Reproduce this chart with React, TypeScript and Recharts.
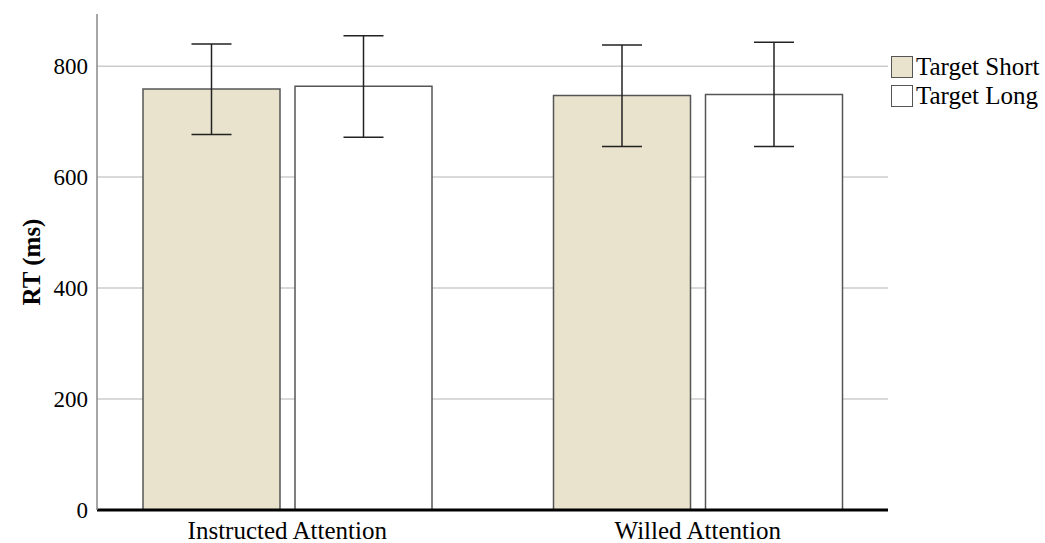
import React from 'react';
import { BarChart, Bar, XAxis, YAxis, CartesianGrid, ErrorBar } from 'recharts';

const categories = ['Instructed Attention', 'Willed Attention'];
const shortMeans = [759, 747];
const shortLow = [677, 655];
const shortHigh = [840, 838];
const longMeans = [764, 749];
const longLow = [672, 655];
const longHigh = [855, 843];
const yTicks = [0, 200, 400, 600, 800];

const data = categories.map((c, i) => ({
  name: c,
  short: shortMeans[i],
  shortErr: [shortMeans[i] - shortLow[i], shortHigh[i] - shortMeans[i]],
  long: longMeans[i],
  longErr: [longMeans[i] - longLow[i], longHigh[i] - longMeans[i]],
}));

const FONT = '"Liberation Serif", "Times New Roman", serif';
const SHORT_FILL = '#E9E3CE';

const legendItems = [
  { label: 'Target Short', fill: SHORT_FILL },
  { label: 'Target Long', fill: '#FFFFFF' },
];

export default function App() {
  return (
    <div
      style={{
        position: 'fixed',
        left: 0,
        top: 0,
        width: 1045,
        height: 543,
        fontFamily: FONT,
        overflow: 'hidden',
        background: '#fff',
      }}
    >
      <BarChart
        width={1045}
        height={543}
        data={data}
        margin={{ top: 14, right: 157, bottom: 0, left: 0 }}
        barCategoryGap={61}
        barGap={15}
      >
        <CartesianGrid
          horizontal={true}
          vertical={false}
          horizontalValues={yTicks}
          stroke="#cccccc"
          strokeWidth={1.5}
        />
        <XAxis
          dataKey="name"
          height={33}
          padding={{ left: -15, right: -15 }}
          axisLine={{ stroke: '#000', strokeWidth: 3 }}
          tickLine={false}
          tickSize={6}
          tickMargin={5}
          tick={{ fontFamily: FONT, fontSize: 25, fill: '#000' }}
        />
        <YAxis
          width={97}
          domain={[0, 894]}
          ticks={yTicks}
          allowDataOverflow
          axisLine={{ stroke: '#888', strokeWidth: 1.5 }}
          tickLine={false}
          tickSize={0}
          tickMargin={9}
          tick={{ fontFamily: FONT, fontSize: 23, fill: '#000' }}
          label={{
            value: 'RT (ms)',
            angle: -90,
            position: 'insideLeft',
            dx: 26,
            dy: 0,
            style: { fontFamily: FONT, fontSize: 25, fontWeight: 'bold', fill: '#000', textAnchor: 'middle' },
          }}
        />
        <Bar dataKey="short" name="Target Short" fill={SHORT_FILL} stroke="#555" strokeWidth={1.5} isAnimationActive={false}>
          <ErrorBar dataKey="shortErr" width={20} stroke="#222" strokeWidth={1.5} isAnimationActive={false} />
        </Bar>
        <Bar dataKey="long" name="Target Long" fill="#FFFFFF" stroke="#555" strokeWidth={1.5} isAnimationActive={false}>
          <ErrorBar dataKey="longErr" width={20} stroke="#222" strokeWidth={1.5} isAnimationActive={false} />
        </Bar>
      </BarChart>
      <div style={{ position: 'absolute', left: 891, top: 52.5, fontSize: 25, color: '#000', fontFamily: FONT }}>
        {legendItems.map((it) => (
          <div key={it.label} style={{ display: 'flex', alignItems: 'center', height: 29, whiteSpace: 'nowrap' }}>
            <div
              style={{
                width: 22,
                height: 22,
                background: it.fill,
                border: '1.5px solid #555',
                boxSizing: 'border-box',
                marginRight: 3,
                flex: 'none',
              }}
            />
            <span style={{ lineHeight: '26px' }}>{it.label}</span>
          </div>
        ))}
      </div>
    </div>
  );
}
